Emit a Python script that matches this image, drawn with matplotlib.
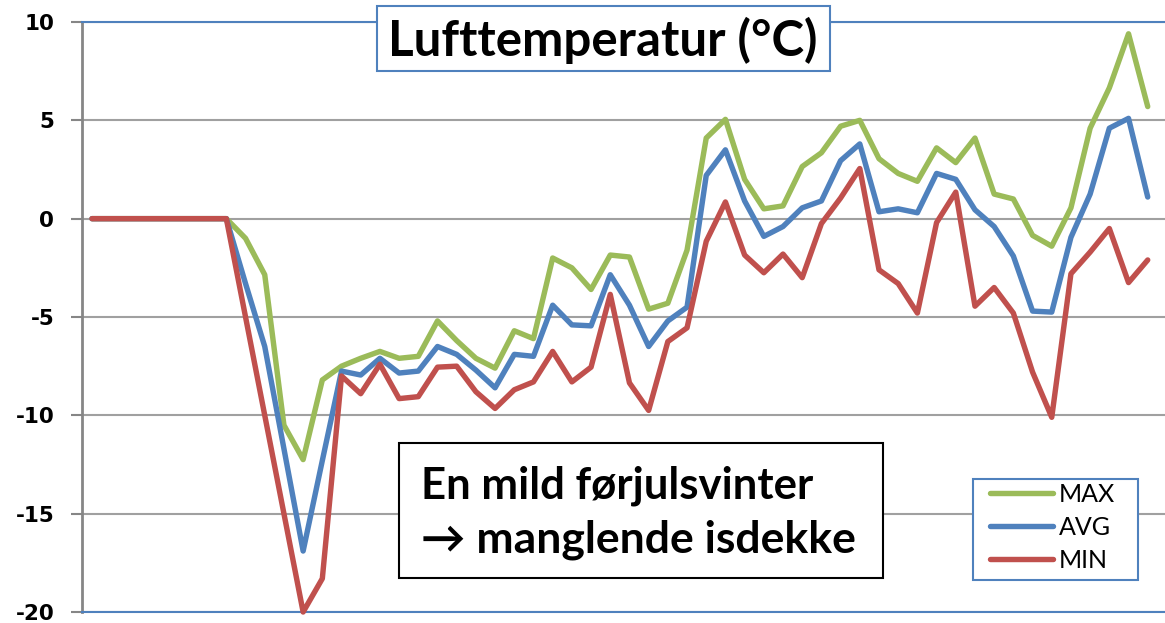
import matplotlib
matplotlib.use("Agg")
import matplotlib.pyplot as plt
from matplotlib.patches import Rectangle
import numpy as np

# daily values
temp_max = [0, 0, 0, 0, 0, 0, 0, 0, -1.0, -2.85, -10.5, -12.25, -8.2, -7.5, -7.1, -6.75,
            -7.1, -7.0, -5.2, -6.2, -7.1, -7.6, -5.7, -6.1, -2.0, -2.5, -3.6, -1.85,
            -1.95, -4.6, -4.3, -1.6, 4.1, 5.05, 2.0, 0.5, 0.65, 2.65, 3.35, 4.7,
            5.0, 3.05, 2.3, 1.9, 3.6, 2.85, 4.1, 1.25, 1.0, -0.85, -1.4, 0.55,
            4.6, 6.65, 9.4, 5.7]
temp_avg = [0, 0, 0, 0, 0, 0, 0, 0, -3.3, -6.5, -11.7, -16.9, -12.3, -7.75, -7.95, -7.1,
            -7.85, -7.75, -6.5, -6.9, -7.7, -8.6, -6.9, -7.0, -4.4, -5.4, -5.45, -2.85,
            -4.4, -6.5, -5.2, -4.5, 2.2, 3.5, 0.9, -0.9, -0.4, 0.55, 0.9, 2.95,
            3.8, 0.35, 0.5, 0.3, 2.3, 2.0, 0.45, -0.4, -1.9, -4.7, -4.75, -0.95,
            1.25, 4.6, 5.1, 1.1]
temp_min = [0, 0, 0, 0, 0, 0, 0, 0, -5.0, -10.0, -15.0, -20.0, -18.3, -8.0, -8.9, -7.4,
            -9.15, -9.05, -7.55, -7.5, -8.8, -9.65, -8.7, -8.3, -6.75, -8.3, -7.55, -3.85,
            -8.35, -9.75, -6.25, -5.55, -1.15, 0.85, -1.85, -2.75, -1.8, -3.0, -0.25, 1.05,
            2.55, -2.6, -3.3, -4.8, -0.2, 1.35, -4.45, -3.5, -4.8, -7.8, -10.1, -2.8,
            -1.7, -0.5, -3.25, -2.1]
y_ticks = [-20, -15, -10, -5, 0, 5, 10]

W, H = 1165, 623
fig = plt.figure(figsize=(W / 100, H / 100), dpi=100)
ax = fig.add_axes([82 / W, 1 - 612 / H, 1 - 82 / W, (612 - 22) / H])

days = np.arange(len(temp_max))
for vals, col, lab in [(temp_max, "#9BBB59", "MAX"),
                       (temp_avg, "#4F81BD", "AVG"),
                       (temp_min, "#C0504D", "MIN")]:
    ax.plot(days, vals, color=col, lw=3.9, label=lab, clip_on=False,
            solid_joinstyle="round", solid_capstyle="round", zorder=3)

ax.set_xlim(-0.52, 55.9)
ax.set_ylim(-20, 10)
ax.set_yticks(y_ticks)
ax.set_yticklabels([str(t) for t in y_ticks], fontsize=15.5, fontweight="bold",
                   family="DejaVu Sans")
ax.set_xticks([])
ax.grid(axis="y", color="#A0A0A0", lw=1.5, zorder=1)
ax.tick_params(axis="y", length=8, width=1.5, color="#868686", pad=12)
ax.spines["right"].set_visible(False)
ax.spines["left"].set_color("#868686")
ax.spines["left"].set_linewidth(2)
for s in ("top", "bottom"):
    ax.spines[s].set_color("#4F81BD")
    ax.spines[s].set_linewidth(1.5)

# title box
fig.patches.append(Rectangle((377 / W, 1 - 71 / H), (830 - 377) / W, 65 / H,
                             transform=fig.transFigure, facecolor="white",
                             edgecolor="#4F81BD", lw=1.5, zorder=5))
fig.text(603 / W, 1 - 40 / H, "Lufttemperatur (°C)", ha="center", va="center",
         fontsize=35.5, fontweight="bold", family=["Lato", "DejaVu Sans"], zorder=6)

# annotation box
fig.patches.append(Rectangle((399 / W, 1 - 578 / H), (883 - 399) / W, (578 - 443) / H,
                             transform=fig.transFigure, facecolor="white",
                             edgecolor="black", lw=1.5, zorder=5))
fig.text(421 / W, 1 - 486 / H, "En mild førjulsvinter", ha="left", va="center",
         fontsize=31.5, fontweight="bold", family=["Lato", "DejaVu Sans"], zorder=6)
fig.text(421 / W, 1 - 540 / H, "→ manglende isdekke", ha="left", va="center",
         fontsize=32, fontweight="bold", family=["Lato", "DejaVu Sans"], zorder=6)

# legend: frame drawn separately so the padding can match
ax.add_patch(Rectangle((973 / W, 1 - 580 / H), (1138 - 973) / W, (580 - 479) / H,
                       transform=fig.transFigure, facecolor="white", clip_on=False,
                       edgecolor="#4F81BD", lw=1.5, zorder=5))
leg = ax.legend(loc="upper left", bbox_to_anchor=(990 / W, 1 - 483 / H),
                bbox_transform=fig.transFigure, frameon=False, handlelength=2.5,
                handletextpad=0.25, labelspacing=0.4, borderpad=0,
                borderaxespad=0, prop={"family": "Lato", "size": 18})
leg.set_zorder(6)

fig.savefig("out.png", dpi=100)
